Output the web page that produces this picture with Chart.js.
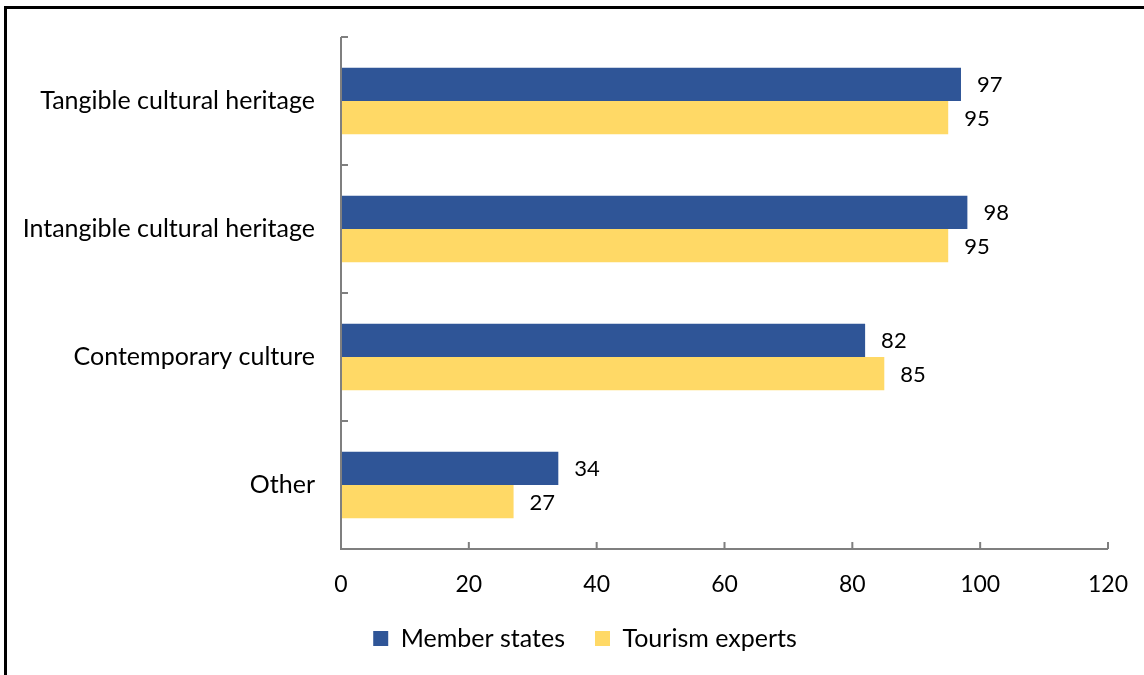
<!DOCTYPE html>
<html>
<head>
<meta charset="utf-8">
<script src="https://cdn.jsdelivr.net/npm/chart.js@4.4.1/dist/chart.umd.min.js"></script>
<style>
  html, body { margin: 0; padding: 0; background: #fff; overflow: hidden; }
  #wrap { position: relative; width: 1144px; height: 675px; }
  #frame { position: absolute; left: 4px; top: 6px; width: 1200px; height: 800px; border: 3px solid #000; box-sizing: border-box; pointer-events: none; }
</style>
</head>
<body>
<div id="wrap">
  <canvas id="chart" width="1144" height="675"></canvas>
  <div id="frame"></div>
</div>
<script>
const categories = ['Tangible cultural heritage', 'Intangible cultural heritage', 'Contemporary culture', 'Other'];
const memberStates = [97, 98, 82, 34];
const tourismExperts = [95, 95, 85, 27];
const xTicks = [0, 20, 40, 60, 80, 100, 120];

const FONT = 'Lato, "Open Sans", sans-serif';
const AXIS_COLOR = '#7f7f7f';

// value labels next to each bar
const barLabels = {
  id: 'barLabels',
  afterDatasetsDraw(chart) {
    const ctx = chart.ctx;
    ctx.save();
    ctx.font = '22px ' + FONT;
    ctx.fillStyle = '#000';
    ctx.textBaseline = 'middle';
    ctx.textAlign = 'left';
    chart.data.datasets.forEach((ds, i) => {
      chart.getDatasetMeta(i).data.forEach((bar, j) => {
        ctx.fillText(ds.data[j], bar.x + 16, bar.y + 1);
      });
    });
    ctx.restore();
  }
};

// axis lines with inward tick marks
const axisTicks = {
  id: 'axisTicks',
  afterLayout(chart) {
    // nudge the legend to the right like the original
    chart.legend.left += 31;
    chart.legend.right += 31;
  },
  afterDraw(chart) {
    const ctx = chart.ctx;
    const x = chart.scales.x;
    const area = chart.chartArea;
    ctx.save();
    ctx.strokeStyle = AXIS_COLOR;
    ctx.lineWidth = 2;
    ctx.beginPath();
    ctx.moveTo(area.left, area.top);
    ctx.lineTo(area.left, area.bottom);
    ctx.lineTo(area.right, area.bottom);
    // x ticks
    xTicks.forEach(v => {
      const px = x.getPixelForValue(v);
      ctx.moveTo(px, area.bottom);
      ctx.lineTo(px, area.bottom - 7);
    });
    // y ticks at category boundaries
    const step = (area.bottom - area.top) / categories.length;
    for (let i = 0; i <= categories.length; i++) {
      const py = area.top + i * step;
      ctx.moveTo(area.left, py);
      ctx.lineTo(area.left + 7, py);
    }
    ctx.stroke();
    ctx.restore();
  }
};

new Chart(document.getElementById('chart'), {
  type: 'bar',
  data: {
    labels: categories,
    datasets: [
      { label: 'Member states', data: memberStates, backgroundColor: '#2F5597' },
      { label: 'Tourism experts', data: tourismExperts, backgroundColor: '#FFD966' }
    ]
  },
  options: {
    indexAxis: 'y',
    responsive: false,
    animation: false,
    categoryPercentage: 0.52,
    barPercentage: 1.0,
    layout: { padding: { top: 37, right: 36, left: 0, bottom: 14 } },
    scales: {
      x: {
        min: 0,
        max: 120,
        grid: { display: false, drawTicks: false },
        border: { display: false },
        afterBuildTicks(scale) { scale.ticks = xTicks.map(v => ({ value: v })); },
        afterFit(scale) { scale.height = 47; scale.paddingLeft = 0; scale.paddingRight = 0; },
        ticks: { padding: 22, color: '#000', font: { family: FONT, size: 23 } }
      },
      y: {
        grid: { display: false, drawTicks: false },
        border: { display: false },
        afterFit(scale) { scale.width = 341; scale.paddingTop = 0; scale.paddingBottom = 0; },
        ticks: { padding: 26, color: '#000', font: { family: FONT, size: 25 } }
      }
    },
    plugins: {
      legend: {
        position: 'bottom',
        maxHeight: 79,
        labels: {
          boxWidth: 15,
          boxHeight: 15,
          padding: 30,
          color: '#000',
          font: { family: FONT, size: 25 }
        }
      },
      tooltip: { enabled: false }
    }
  },
  plugins: [barLabels, axisTicks]
});
</script>
</body>
</html>
